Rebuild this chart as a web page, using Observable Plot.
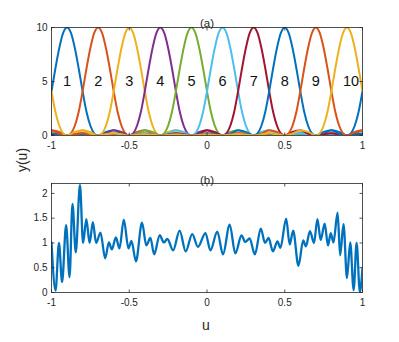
<!DOCTYPE html>
<html>
<head>
<meta charset="utf-8">
<script src="https://cdn.jsdelivr.net/npm/d3@7"></script>
<script src="https://cdn.jsdelivr.net/npm/@observablehq/plot@0.6"></script>
<style>
  html, body { margin: 0; padding: 0; background: white; }
  #wrap { position: relative; width: 399px; height: 342px; background: white; overflow: hidden;
          font-family: "Liberation Sans", Arial, Helvetica, sans-serif; color: #262626; }
  #wrap > div.panel { position: absolute; left: 0; }
  .lbl { position: absolute; font-size: 14px; color: #262626; white-space: nowrap; }
</style>
</head>
<body>
<div id="wrap">
  <div class="panel" id="pa" style="top:0px"></div>
  <div class="panel" id="pb" style="top:160px"></div>
  <div class="lbl" id="ylab" style="left:21.5px; top:160px; transform: translate(-50%,-50%) rotate(-90deg);">y(u)</div>
  <div class="lbl" id="xlab" style="left:206px; top:325px; transform: translate(-50%,-50%);">u</div>
</div>
<script>
// ---------- data ----------
const panelTitles = ["(a)", "(b)"];
const xTicks = [-1, -0.5, 0, 0.5, 1];
const aTicks = [0, 5, 10];
const bTicks = [0, 0.5, 1, 1.5, 2];

const beamLabels = ["1","2","3","4","5","6","7","8","9","10"];
const beamCenters = [-0.9, -0.7, -0.5, -0.3, -0.1, 0.1, 0.3, 0.5, 0.7, 0.9];
const beamColors = ["#0072BD","#D95319","#EDB120","#7E2F8E","#77AC30","#4DBEEE","#A2142F","#0072BD","#D95319","#EDB120"];
const beamLabelY = 5;

// one beam's shape (offset from beam centre -> value), symmetric
const profileOffset = [0, 0.025, 0.05, 0.075, 0.1, 0.125, 0.15, 0.175, 0.2, 0.25, 0.3, 0.35, 0.4, 0.45, 0.5, 0.55, 0.6, 0.65, 0.7, 0.75, 0.8, 0.85, 0.9, 0.95, 1.0];
const profileValue  = [10, 9.5, 8.1, 6.2, 4.1, 2.2, 0.9, 0.2, 0, 0.34, 0.49, 0.18, 0, 0.12, 0.2, 0.09, 0, 0.07, 0.13, 0.06, 0, 0.05, 0.1, 0.05, 0];

// panel (b) curve, extrema
const bU = [-1.0,-0.974,-0.952,-0.932,-0.906,-0.884,-0.865,-0.844,-0.817,-0.797,-0.776,-0.755,-0.734,-0.713,-0.685,-0.655,-0.631,-0.612,-0.586,-0.563,-0.535,-0.505,-0.486,-0.457,-0.418,-0.39,-0.364,-0.34,-0.304,-0.278,-0.255,-0.218,-0.176,-0.137,-0.095,-0.058,-0.01,0.022,0.066,0.103,0.146,0.182,0.222,0.246,0.274,0.308,0.346,0.373,0.396,0.424,0.453,0.472,0.509,0.532,0.554,0.588,0.619,0.636,0.662,0.688,0.710,0.731,0.757,0.778,0.796,0.813,0.840,0.856,0.878,0.900,0.921,0.943,0.962,0.983,1.0];
const bY = [1.01,0.04,1.0,0.21,1.36,0.31,1.79,0.81,2.17,1.0,1.48,1.0,1.42,1.0,1.21,0.69,1.01,0.87,1.11,0.89,1.47,0.89,1.04,0.63,1.41,0.95,1.1,0.77,1.16,1.01,1.08,0.85,1.25,0.83,1.18,0.92,1.2,0.85,1.23,0.77,1.37,0.79,1.15,1.02,1.09,0.77,1.29,1.0,1.1,0.83,1.03,0.9,1.49,0.97,1.25,0.54,1.05,0.93,1.24,1.0,1.48,1.06,1.39,0.95,1.2,1.01,1.61,0.75,1.38,0.29,1.01,0.05,1.0,0.01,0.5];

// ---------- build tables ----------
const fullOff = [...profileOffset.slice(1).map(o => -o).reverse(), ...profileOffset];
const fullVal = [...profileValue.slice(1).reverse(), ...profileValue];
const beamPoints = [];
beamCenters.forEach((c, i) => {
  const m = new Map();
  fullOff.forEach((o, k) => {
    let u = Math.round((c + o) * 1e6) / 1e6;
    if (u > 1) u = Math.round((u - 2) * 1e6) / 1e6;
    if (u < -1) u = Math.round((u + 2) * 1e6) / 1e6;
    m.set(u, fullVal[k]);
    if (Math.abs(Math.abs(u) - 1) < 1e-9) m.set(-u, fullVal[k]);
  });
  [...m.entries()].sort((a, b) => a[0] - b[0]).forEach(([u, v]) => beamPoints.push({u, v, beam: beamLabels[i]}));
});
const beamText = beamCenters.map((c, i) => ({c, label: beamLabels[i]}));
const bData = bU.map((u, i) => ({u, y: bY[i]}));

const font = '"Liberation Sans", Arial, Helvetica, sans-serif';
const W = 399, ML = 51, MR = 37;
const axisCol = "#262626";
const TL = 3; // inward tick length (px)

// custom inward tick symbols (short strokes)
const tickUp    = {draw(ctx) { ctx.moveTo(0, 0); ctx.lineTo(0, -TL); }};
const tickDown  = {draw(ctx) { ctx.moveTo(0, 0); ctx.lineTo(0, TL); }};
const tickRight = {draw(ctx) { ctx.moveTo(0, 0); ctx.lineTo(TL, 0); }};
const tickLeft  = {draw(ctx) { ctx.moveTo(0, 0); ctx.lineTo(-TL, 0); }};

function boxTicks(yTicks) {
  const o = {stroke: axisCol, strokeWidth: 0.8, fill: "none", r: 3};
  return [
    Plot.dot(xTicks, {x: d => d, frameAnchor: "bottom", symbol: tickUp, ...o}),
    Plot.dot(xTicks, {x: d => d, frameAnchor: "top", symbol: tickDown, ...o}),
    Plot.dot(yTicks, {y: d => d, frameAnchor: "left", symbol: tickRight, ...o}),
    Plot.dot(yTicks, {y: d => d, frameAnchor: "right", symbol: tickLeft, ...o}),
    Plot.frame({stroke: axisCol, strokeWidth: 0.8}),
    Plot.axisX({ticks: xTicks, tickSize: 0, tickPadding: 6, tickFormat: d => String(d), label: null, fontSize: 10, fill: axisCol}),
    Plot.axisY({ticks: yTicks, tickSize: 0, tickPadding: 4, tickFormat: d => String(d), label: null, fontSize: 10, fill: axisCol})
  ];
}

// ---------- panel (a) ----------
const plotA = Plot.plot({
  width: W, height: 160, marginLeft: ML, marginRight: MR, marginTop: 27, marginBottom: 25,
  style: {fontFamily: font, fontSize: "10px", color: axisCol, background: "white"},
  x: {domain: [-1, 1]},
  y: {domain: [0, 10]},
  color: {type: "ordinal", domain: beamLabels, range: beamColors},
  marks: [
    Plot.line(beamPoints, {x: "u", y: "v", z: "beam", stroke: "beam", strokeWidth: 2, curve: "monotone-x", clip: true}),
    Plot.text(beamText, {x: "c", y: () => beamLabelY, text: "label", textAnchor: "start", dx: -4, fontSize: 14.5, fill: "#111"}),
    Plot.text([panelTitles[0]], {frameAnchor: "top", dy: -9, fontSize: 11.5, fill: axisCol}),
    ...boxTicks(aTicks)
  ]
});
document.getElementById("pa").appendChild(plotA);

// ---------- panel (b) ----------
const plotB = Plot.plot({
  width: W, height: 182, marginLeft: ML, marginRight: MR, marginTop: 23, marginBottom: 50,
  style: {fontFamily: font, fontSize: "10px", color: axisCol, background: "white"},
  x: {domain: [-1, 1]},
  y: {domain: [0, 2.2]},
  marks: [
    Plot.line(bData, {x: "u", y: "y", stroke: "#0072BD", strokeWidth: 2.3, curve: "monotone-x", clip: true}),
    Plot.text([panelTitles[1]], {frameAnchor: "top", dy: -8, fontSize: 11.5, fill: axisCol}),
    ...boxTicks(bTicks)
  ]
});
document.getElementById("pb").appendChild(plotB);
</script>
</body>
</html>
